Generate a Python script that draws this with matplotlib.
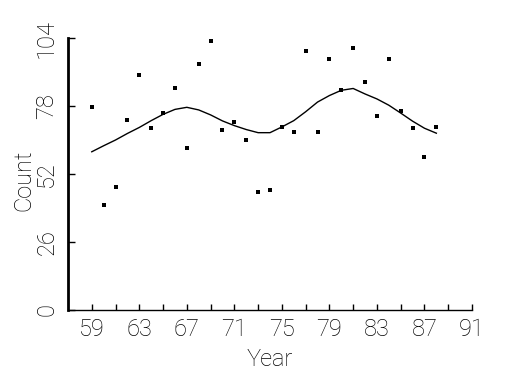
import matplotlib
matplotlib.use("Agg")
import matplotlib.pyplot as plt
from matplotlib.ticker import FixedLocator

years = list(range(59, 89))
counts = [77.5, 40, 47, 72.5, 90, 69.5, 75.5, 85, 62, 94,
          103, 69, 72, 65, 45, 46, 70, 68, 99, 68,
          96, 84, 100, 87, 74, 96, 76, 69.5, 58.5, 70]
smooth = [60.5, 62.8, 65.0, 67.5, 69.8, 72.4, 74.8, 76.7, 77.5, 76.5,
          74.6, 72.3, 70.5, 69.0, 67.8, 67.8, 70.0, 72.4, 75.8, 79.5,
          82.0, 84.0, 84.7, 82.6, 80.7, 78.3, 75.3, 72.2, 69.5, 67.6]
x_major = [59, 63, 67, 71, 75, 79, 83, 87, 91]
x_minor = [61, 65, 69, 73, 77, 81, 85, 89]
y_ticks = [0, 26, 52, 78, 104]

plt.rcParams["font.family"] = ["Roboto", "DejaVu Sans"]
plt.rcParams["font.weight"] = "light"

fig = plt.figure(figsize=(5.25, 3.75), dpi=100)
ax = fig.add_axes([68/525, 1-310/375, (472-68)/525, (310-38)/375])

ax.plot(years, smooth, color="black", lw=1.0)
ax.scatter(years, counts, s=7, marker="s", color="black", linewidths=0)

ax.set_xlim(57, 91)
ax.set_ylim(0, 104)
ax.spines["top"].set_visible(False)
ax.spines["right"].set_visible(False)
ax.spines["left"].set_linewidth(2.0)
ax.spines["bottom"].set_linewidth(1.0)

ax.xaxis.set_major_locator(FixedLocator(x_major))
ax.xaxis.set_minor_locator(FixedLocator(x_minor))
ax.set_yticks(y_ticks)
ax.set_xticklabels([str(v) for v in x_major], fontweight="light", color="black")
ax.set_yticklabels([str(v) for v in y_ticks], rotation=90, va="center", fontweight="light")
ax.tick_params(axis="x", which="both", direction="in", length=4, width=1, labelsize=17, pad=6)
ax.tick_params(axis="y", direction="in", length=5, width=1, labelsize=17, pad=7)

ax.set_xlabel("Year", fontsize=17, labelpad=5, fontweight="light")
ax.set_ylabel("Count", fontsize=17, fontweight="light", va="center")
ax.yaxis.set_label_coords((24 - 68) / 404, (310 - 180) / 272)

fig.savefig("out.png", dpi=100)
